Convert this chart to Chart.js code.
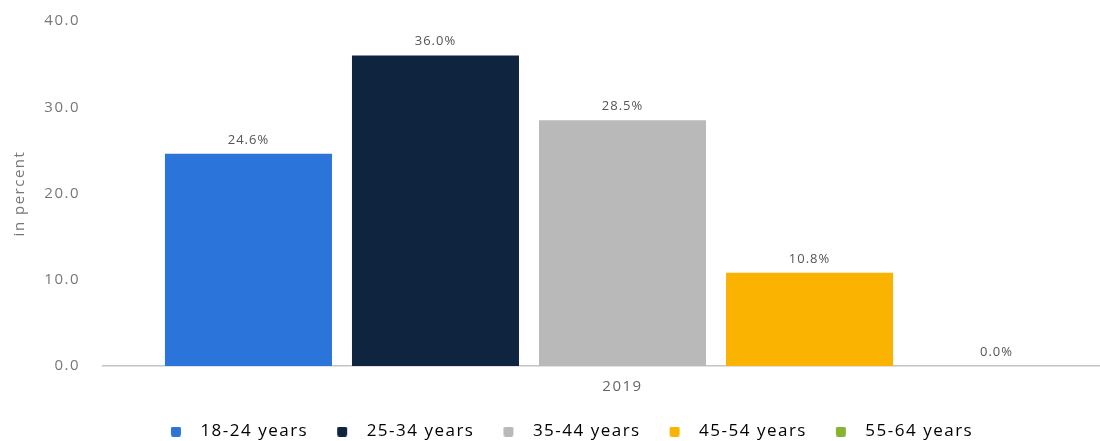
<!DOCTYPE html>
<html>
<head>
<meta charset="utf-8">
<script src="https://cdn.jsdelivr.net/npm/chart.js@4/dist/chart.umd.min.js"></script>
<style>
  html, body { margin: 0; padding: 0; background: #fff; overflow: hidden; }
  #wrap { width: 1100px; height: 441px; overflow: hidden; }
</style>
</head>
<body>
<div id="wrap"><canvas id="chart" width="1142" height="441"></canvas></div>
<script>
// age groups, share in percent (single year)
var years = ['2019'];
var ageGroups = ['18-24 years', '25-34 years', '35-44 years', '45-54 years', '55-64 years'];
var shares = [24.6, 36.0, 28.5, 10.8, 0.0];
var groupColors = ['#2a74da', '#0e243f', '#b9b9b9', '#f9b300', '#86b42f'];
var yTicks = [0, 10, 20, 30, 40];

var swatchSlot = 29;

// small rounded square for the legend, sitting a bit in from the left of its slot
function legendSwatch(color, lead) {
  var c = document.createElement('canvas');
  c.width = swatchSlot;
  c.height = 10;
  var g = c.getContext('2d');
  g.fillStyle = color;
  g.beginPath();
  g.roundRect(lead, 0, 10, 10, 2);
  g.fill();
  return c;
}

// statista-ish text is a bit tracked out
var spacing = {
  id: 'spacing',
  beforeUpdate: function(chart) { chart.ctx.letterSpacing = '1.5px'; },
  beforeDraw: function(chart) { chart.ctx.letterSpacing = '1.5px'; }
};

// value labels on top of each bar
var valueLabels = {
  id: 'valueLabels',
  afterDatasetsDraw: function(chart) {
    var ctx = chart.ctx;
    ctx.save();
    ctx.letterSpacing = '1px';
    ctx.font = '13px "Open Sans"';
    ctx.fillStyle = '#555';
    ctx.textAlign = 'center';
    ctx.textBaseline = 'middle';
    chart.data.datasets.forEach(function(ds, i) {
      var bar = chart.getDatasetMeta(i).data[0];
      ctx.fillText(ds.data[0].toFixed(1) + '%', bar.x, bar.y - 14);
    });
    ctx.restore();
  }
};

var datasets = ageGroups.map(function(name, i) {
  return {
    label: name,
    data: [shares[i]],
    backgroundColor: groupColors[i],
    borderWidth: 0,
    categoryPercentage: 0.9,
    barPercentage: 0.893
  };
});

new Chart(document.getElementById('chart'), {
  type: 'bar',
  data: { labels: years, datasets: datasets },
  plugins: [spacing, valueLabels],
  options: {
    responsive: false,
    animation: false,
    devicePixelRatio: 1,
    layout: { padding: { top: 21, right: 0, bottom: -9, left: 0 } },
    scales: {
      x: {
        grid: { display: false, drawTicks: false },
        border: { display: true, color: '#c4c4c4', width: 1.5 },
        ticks: { color: '#666', padding: 12, font: { family: 'Open Sans', size: 15 } }
      },
      y: {
        min: 0,
        max: 40,
        afterBuildTicks: function(scale) {
          scale.ticks = yTicks.map(function(v) { return { value: v }; });
        },
        afterFit: function(scale) {
          scale.width = 103;
          scale.paddingTop = 0;
          scale.paddingBottom = 0;
        },
        grid: { display: false, drawTicks: false },
        border: { display: false },
        ticks: {
          color: '#777',
          padding: 23,
          font: { family: 'Open Sans', size: 15 },
          callback: function(v) { return v.toFixed(1); }
        },
        title: {
          display: true,
          text: 'in percent',
          color: '#777',
          padding: { top: 11, bottom: 0 },
          font: { family: 'Open Sans', size: 15 }
        }
      }
    },
    plugins: {
      tooltip: { enabled: false },
      legend: {
        position: 'bottom',
        labels: {
          usePointStyle: true,
          pointStyleWidth: swatchSlot,
          boxHeight: 10,
          padding: 15,
          color: '#444',
          font: { family: 'Open Sans', size: 17 },
          generateLabels: function(chart) {
            return chart.data.datasets.map(function(ds, i) {
              return {
                text: ds.label + ' ',
                fillStyle: ds.backgroundColor,
                strokeStyle: ds.backgroundColor,
                lineWidth: 0,
                pointStyle: legendSwatch(ds.backgroundColor, 8),
                hidden: false,
                datasetIndex: i
              };
            });
          }
        }
      }
    }
  }
});
</script>
</body>
</html>
